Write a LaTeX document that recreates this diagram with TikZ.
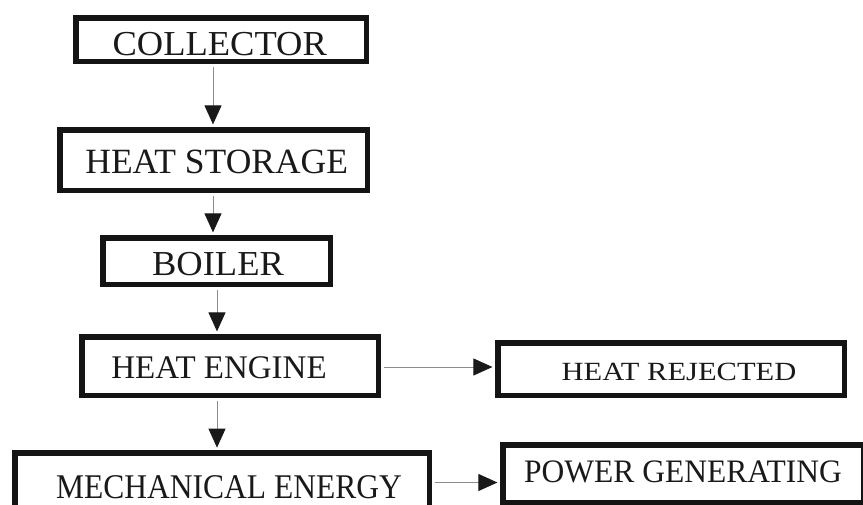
\documentclass[tikz,border=0pt]{standalone}
\usepackage{fontspec}
\setmainfont{Liberation Serif}
\usetikzlibrary{arrows.meta}
\newcommand\boxtxt[3]{\scalebox{1}[#2]{\fontsize{#1}{#1}\selectfont #3}}
\tikzset{
  blockbox/.style={draw=black!92, line width=5.5pt, rectangle, inner sep=0pt},
  blocktext/.style={anchor=base, inner sep=0pt, text=black!90},
  flow/.style={draw=black!45, line width=0.9pt,
    -{Triangle[length=19pt,width=17pt,color=black!90]},
    shorten >=2.6pt, shorten <=2.75pt}
}
\begin{document}
\begin{tikzpicture}[x=1pt,y=-1pt]
\useasboundingbox (0,0) rectangle (863,504);
\clip (0,0) rectangle (863,504);
% boxes
\node[blockbox, minimum width=290.5pt, minimum height=43.5pt] (collector) at (221,39.5) {};
\node[blockbox, minimum width=307.5pt, minimum height=60.5pt] (storage) at (213.5,160) {};
\node[blockbox, minimum width=227.5pt, minimum height=46.5pt] (boiler) at (216.5,261) {};
\node[blockbox, minimum width=296.5pt, minimum height=58.5pt] (engine) at (230,366) {};
\node[blockbox, minimum width=414.5pt, minimum height=58pt] (mech) at (222,482) {};
\node[blockbox, minimum width=346.5pt, minimum height=52.5pt] (rejected) at (671,369) {};
\node[blockbox, minimum width=360.5pt, minimum height=57.5pt] (power) at (683,473.5) {};
% texts
\node[blocktext] (tcollector) at (219.7,55) {\boxtxt{36.5}{0.96}{COLLECTOR}};
\node[blocktext] (tstorage) at (216.7,173) {\boxtxt{35.5}{1.0}{HEAT STORAGE}};
\node[blocktext] (tboiler) at (218,275) {\boxtxt{36.5}{0.96}{BOILER}};
\node[blocktext] (tengine) at (219,378) {\boxtxt{33}{1.0}{HEAT ENGINE}};
\node[blocktext] (tmech) at (229,498) {\boxtxt{31.5}{1.1}{MECHANICAL ENERGY}};
\node[blocktext] (trejected) at (679,380) {\boxtxt{30.5}{0.86}{HEAT REJECTED}};
\node[blocktext] (tpower) at (683,482) {\boxtxt{31.5}{1.04}{POWER GENERATING}};
% connector guides
\coordinate (xa) at (213,0);
\coordinate (xb) at (217,0);
\coordinate (ya) at (0,367);
\coordinate (yb) at (0,482.5);
% connectors
\draw[flow] (collector.south -| xa) -- (storage.north -| xa);
\draw[flow] (storage.south -| xa) -- (boiler.north -| xa);
\draw[flow] (boiler.south -| xb) -- (engine.north -| xb);
\draw[flow] (engine.south -| xb) -- (mech.north -| xb);
\draw[flow] (engine.east |- ya) -- (rejected.west |- ya);
\draw[flow] (mech.east |- yb) -- (power.west |- yb);
\end{tikzpicture}
\end{document}
